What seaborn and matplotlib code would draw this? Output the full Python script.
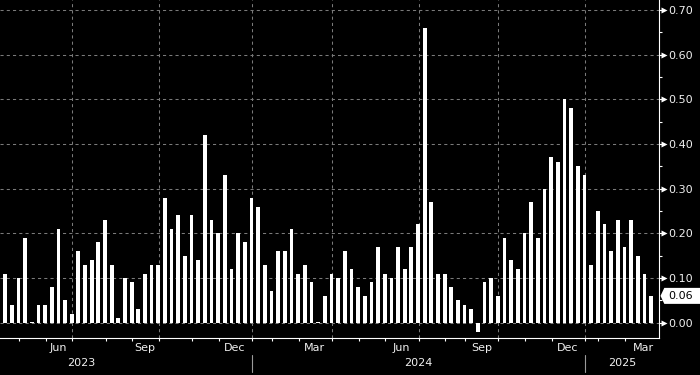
import matplotlib
matplotlib.use("Agg")
import numpy as np
import pandas as pd
import seaborn as sns
import matplotlib.pyplot as plt
from matplotlib import transforms
from matplotlib.patches import Polygon

# ---------------- data ----------------
values = [0.13, 0.11, 0.04, 0.10, 0.19, 0.002, 0.04, 0.04, 0.08, 0.21,
          0.05, 0.02, 0.16, 0.13, 0.14, 0.18, 0.23, 0.13, 0.01, 0.10,
          0.09, 0.03, 0.11, 0.13, 0.13, 0.28, 0.21, 0.24, 0.15, 0.24,
          0.14, 0.42, 0.23, 0.20, 0.33, 0.12, 0.20, 0.18, 0.28, 0.26,
          0.13, 0.07, 0.16, 0.16, 0.21, 0.11, 0.13, 0.09, 0.002, 0.06,
          0.11, 0.10, 0.16, 0.12, 0.08, 0.06, 0.09, 0.17, 0.11, 0.10,
          0.17, 0.12, 0.17, 0.22, 0.66, 0.27, 0.11, 0.11, 0.08, 0.05,
          0.04, 0.03, -0.02, 0.09, 0.10, 0.06, 0.19, 0.14, 0.12, 0.20,
          0.27, 0.19, 0.30, 0.37, 0.36, 0.50, 0.48, 0.35, 0.33, 0.13,
          0.25, 0.22, 0.16, 0.23, 0.17, 0.23, 0.15, 0.11, 0.06]
weeks = list(range(len(values)))

month_tick_weeks = [3, 7, 11, 16, 20, 24, 29, 33, 38, 41, 45, 50, 54, 58,
                    63, 67, 70, 75, 79, 83, 88, 90, 94]
quarter_weeks = [11, 24, 38, 50, 63, 75, 88]
month_labels = ["Jun", "Sep", "Dec", "Mar", "Jun", "Sep", "Dec", "Mar"]
month_label_weeks = [9, 22, 35.5, 47.5, 60.5, 72.5, 85.5, 96.9]
year_labels = ["2023", "2024", "2025"]
year_label_weeks = [12.5, 63.0, 93.6]
year_sep_weeks = [38, 88]
y_major = [0.0, 0.1, 0.2, 0.3, 0.4, 0.5, 0.6, 0.7]
y_minor = [0.05, 0.15, 0.25, 0.35, 0.45, 0.55, 0.65]

# ---------------- style ----------------
sns.set_style("dark")
plt.rcParams["font.family"] = ["DejaVu Sans"]
TXT = "#f0f0f0"
GRID = "#7a7a7a"
OFF = 0.08

fig = plt.figure(figsize=(7, 3.75), dpi=100, facecolor="black")
ax = fig.add_axes([0, 37 / 375, 659.3 / 700, 338 / 375])
ax.set_facecolor("black")

df = pd.DataFrame({"week": weeks, "value": values})
sns.barplot(data=df, x="week", y="value", native_scale=True, color="white",
            saturation=1, width=0.56, linewidth=0, errorbar=None, ax=ax,
            zorder=3)

ax.set_xlim(0.234, 99.23)
ax.set_ylim(-0.0343, 0.7224)
ax.set_xlabel("")
ax.set_ylabel("")

# grid
ax.set_axisbelow(True)
ax.grid(False)
for yv in y_major:
    ax.axhline(yv, color=GRID, lw=0.75, ls=(0, (3, 3)), zorder=0)
for q in quarter_weeks:
    ax.axvline(q + OFF, color=GRID, lw=0.75, ls=(0, (3, 3)), zorder=0)

# spines
for s in ["top", "left"]:
    ax.spines[s].set_visible(False)
for s in ["bottom", "right"]:
    ax.spines[s].set_visible(True)
    ax.spines[s].set_color("white")
    ax.spines[s].set_linewidth(0.8)

# y axis on right
ax.yaxis.tick_right()
ax.set_yticks(y_major)
ax.set_yticklabels([f"{v:.2f}" for v in y_major])
ax.set_yticks(y_minor, minor=True)
ax.tick_params(axis="y", which="major", direction="out", length=2.2,
               width=0.8, color="white", labelcolor=TXT, labelsize=8, pad=4.6,
               left=False, right=True)
ax.tick_params(axis="y", which="minor", direction="out", length=2.2,
               width=0.8, color="white", left=False, right=True)

tri_tr = transforms.blended_transform_factory(ax.transAxes, ax.transData) + \
    transforms.ScaledTranslation(5 / 100, 0, fig.dpi_scale_trans)
ax.plot([1] * len(y_major), y_major, ls="none", marker=">", ms=4.2,
        color="white", mec="none", transform=tri_tr, clip_on=False)

# x axis
ax.set_xticks([w + OFF for w in month_tick_weeks])
ax.set_xticklabels([])
ax.tick_params(axis="x", which="major", direction="out", length=2.2,
               width=0.8, color="white", bottom=True)

xt = ax.get_xaxis_transform()
for lab, w in zip(month_labels, month_label_weeks):
    ax.text(w, -10 / 338, lab, transform=xt, ha="center", va="center",
            color=TXT, fontsize=8, clip_on=False)
for lab, w in zip(year_labels, year_label_weeks):
    ax.text(w, -25.5 / 338, lab, transform=xt, ha="center", va="center",
            color=TXT, fontsize=8, clip_on=False)
for w in year_sep_weeks:
    ax.plot([w + OFF, w + OFF], [-17 / 338, -34 / 338], transform=xt,
            color="#9a9a9a", lw=0.8, clip_on=False)

# last value tag
last = values[-1]
y_disp = ax.transData.transform((0, last))[1]
x_sp = ax.transAxes.transform((1, 0))[0]
h = 8
pts = [(x_sp + 1.2, y_disp), (x_sp + 5, y_disp + h), (700, y_disp + h),
       (700, y_disp - h), (x_sp + 5, y_disp - h)]
fig.add_artist(Polygon(pts, closed=True, facecolor="white", edgecolor="none",
                       transform=transforms.IdentityTransform()))
fig.text(x_sp + 9, y_disp, f"{last:.2f}", color="black", fontsize=8,
         ha="left", va="center", transform=transforms.IdentityTransform())

fig.savefig("out.png", dpi=100, facecolor="black")
